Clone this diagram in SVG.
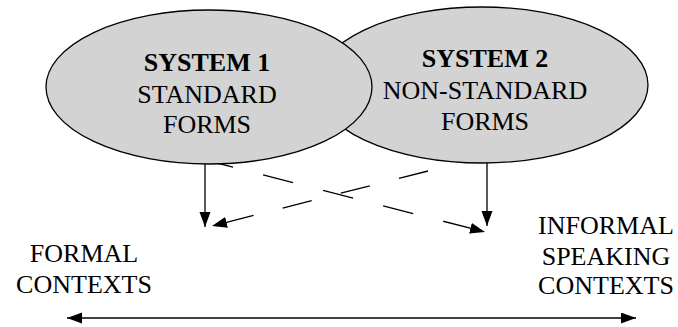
<svg xmlns="http://www.w3.org/2000/svg" width="678" height="327" viewBox="0 0 678 327">
<style>
.ell{fill:#d3d3d3;stroke:#000;stroke-width:1.3}
.t{font-family:"Liberation Serif","Times New Roman",serif;font-size:26px;fill:#000;text-anchor:middle}
.b{font-weight:bold}
.ln{stroke:#000;stroke-width:1.3;fill:none}
</style>
<defs>
<marker id="ah" markerUnits="userSpaceOnUse" markerWidth="16" markerHeight="12" refX="15" refY="5.5" orient="auto-start-reverse" viewBox="0 0 16 12">
<path d="M0,0 L15,5.5 L0,11 z" fill="#000"/>
</marker>
</defs>
<g id="connectors">
<line class="ln" x1="203" y1="159.5" x2="485" y2="232" stroke-dasharray="31 31" marker-end="url(#ah)"/>
<line class="ln" x1="428" y1="171" x2="212" y2="226" stroke-dasharray="30 30" marker-end="url(#ah)"/>
<line class="ln" x1="205" y1="164" x2="205" y2="227" marker-end="url(#ah)"/>
<line class="ln" x1="487" y1="162" x2="487" y2="226" marker-end="url(#ah)"/>
<line class="ln" x1="67" y1="318" x2="636" y2="318" marker-start="url(#ah)" marker-end="url(#ah)"/>
</g>
<g id="system2">
<ellipse class="ell" cx="482" cy="85" rx="166" ry="78"/>
<text class="t b" x="485" y="67">SYSTEM 2</text>
<text class="t" x="485" y="99">NON-STANDARD</text>
<text class="t" x="485" y="130">FORMS</text>
</g>
<g id="system1">
<ellipse class="ell" cx="209" cy="87" rx="163" ry="77"/>
<text class="t b" x="207" y="71">SYSTEM 1</text>
<text class="t" x="207" y="103">STANDARD</text>
<text class="t" x="207" y="133">FORMS</text>
</g>
<g id="formal">
<text class="t" x="84" y="262">FORMAL</text>
<text class="t" x="84" y="293">CONTEXTS</text>
</g>
<g id="informal">
<text class="t" x="606" y="234">INFORMAL</text>
<text class="t" x="606" y="265">SPEAKING</text>
<text class="t" x="606" y="294">CONTEXTS</text>
</g>
</svg>
